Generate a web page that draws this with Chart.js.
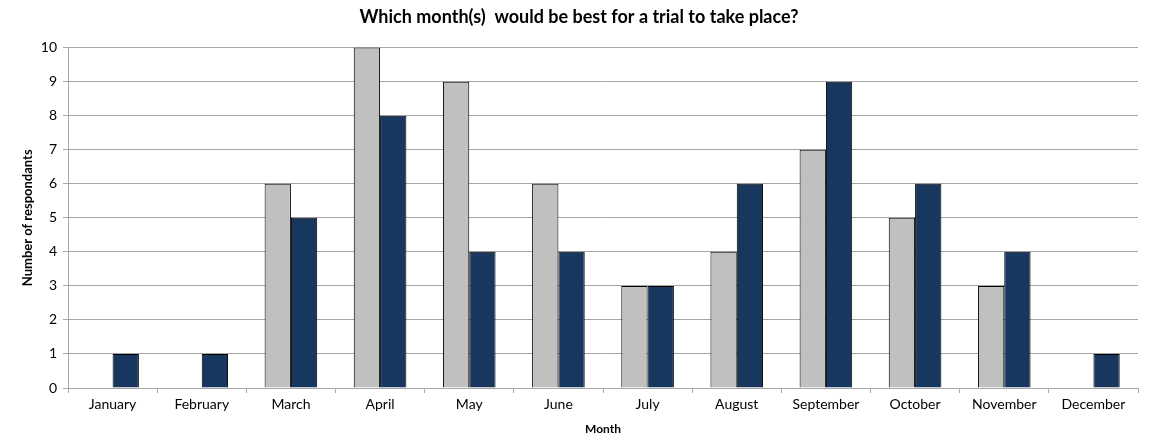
<!DOCTYPE html>
<html>
<head>
<meta charset="utf-8">
<script src="https://cdn.jsdelivr.net/npm/chart.js@4"></script>
<style>
  html, body { margin: 0; padding: 0; background: #fff; }
  #wrap { width: 1153px; height: 440px; }
</style>
</head>
<body>
<div id="wrap"><canvas id="chart"></canvas></div>
<script>
const months = ["January", "February", "March", "April", "May", "June", "July", "August", "September", "October", "November", "December"];
const greySeries = [0, 0, 6, 10, 9, 6, 3, 4, 7, 5, 3, 0];
const navySeries = [1, 1, 5, 8, 4, 4, 3, 6, 9, 6, 4, 1];
const yTicks = [0, 1, 2, 3, 4, 5, 6, 7, 8, 9, 10];

const fontName = "Lato, 'Open Sans', sans-serif";
const gridGrey = "#a6a6a6";

const ctx = document.getElementById('chart').getContext('2d');
new Chart(ctx, {
    type: 'bar',
    data: {
        labels: months,
        datasets: [{
            label: 'Series 1',
            data: greySeries,
            backgroundColor: '#c0c0c0',
            borderColor: '#000',
            borderWidth: 1,
            categoryPercentage: 0.59,
            barPercentage: 1.0
        }, {
            label: 'Series 2',
            data: navySeries,
            backgroundColor: '#17375e',
            borderColor: '#000',
            borderWidth: 1,
            categoryPercentage: 0.59,
            barPercentage: 1.0
        }]
    },
    options: {
        responsive: true,
        maintainAspectRatio: false,
        animation: false,
        layout: { padding: { left: 20, right: 15, top: 0, bottom: 0 } },
        plugins: {
            legend: { display: false },
            tooltip: { enabled: false },
            title: {
                display: true,
                text: 'Which month(s)  would be best for a trial to take place?',
                color: '#000',
                font: { family: fontName, size: 18, weight: 'bold' },
                padding: { top: 6, bottom: 20 }
            }
        },
        scales: {
            x: {
                grid: {
                    offset: true,
                    drawOnChartArea: false,
                    drawTicks: true,
                    tickLength: 5,
                    color: gridGrey
                },
                border: { color: gridGrey },
                ticks: {
                    color: '#000',
                    font: { family: fontName, size: 14 },
                    padding: 3,
                    maxRotation: 0
                },
                title: {
                    display: true,
                    text: 'Month',
                    color: '#000',
                    font: { family: fontName, size: 12, weight: 'bold' },
                    padding: { top: 1, bottom: 4 }
                },
                afterFit: s => { s.height = 52; }
            },
            y: {
                min: 0,
                max: 10,
                afterBuildTicks: s => { s.ticks = yTicks.map(v => ({ value: v })); },
                grid: {
                    color: gridGrey,
                    tickLength: 5
                },
                border: { color: gridGrey },
                ticks: {
                    color: '#000',
                    font: { family: fontName, size: 14 },
                    padding: 6
                },
                title: {
                    display: true,
                    text: 'Number of respondants',
                    color: '#000',
                    font: { family: fontName, size: 13, weight: 'bold' },
                    padding: { top: 0, bottom: 4 }
                },
                afterFit: s => { s.width = 48; }
            }
        }
    }
});
</script>
</body>
</html>
